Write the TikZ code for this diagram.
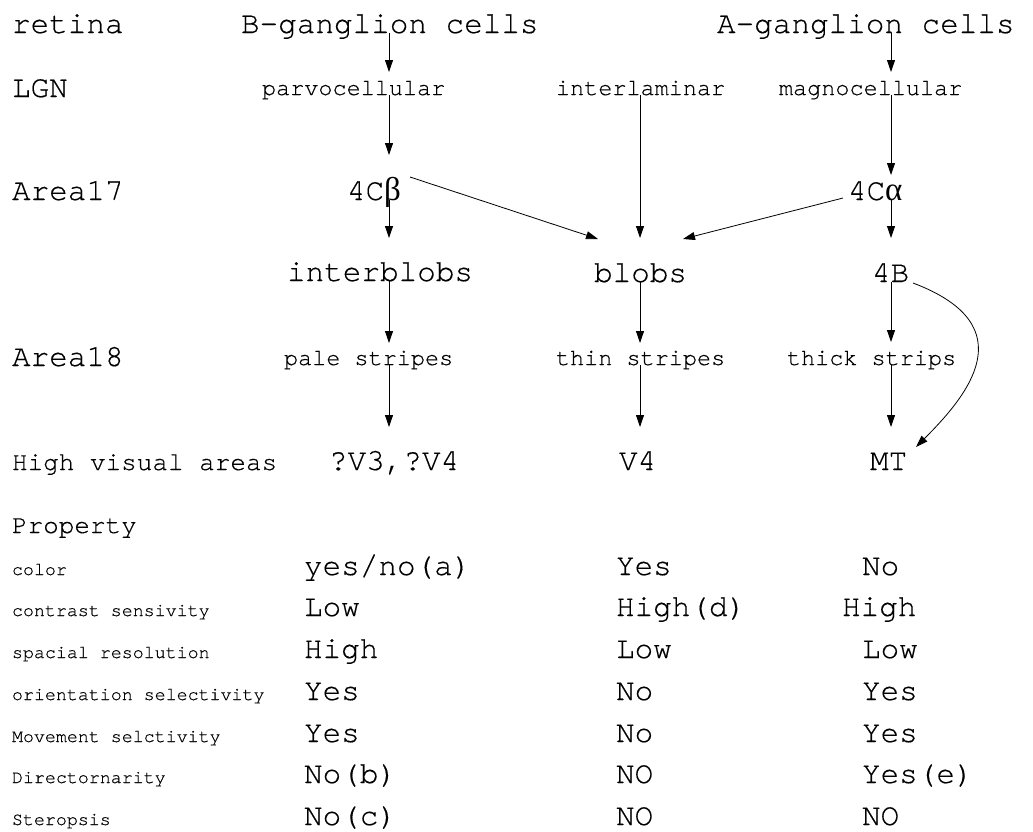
\documentclass[tikz,border=0pt]{standalone}
\usepackage{fontspec}
\setmonofont[FakeBold=0.35]{TeX Gyre Cursor}
\newfontfamily\grk{Liberation Serif}
\usetikzlibrary{arrows.meta}

\tikzset{
  lbl/.style={anchor=base west, inner sep=0pt, outer sep=0pt,
              font=\ttfamily\fontsize{#1}{#1}\selectfont},
  big/.style={lbl=31},
  mid/.style={lbl=23.5},
  head/.style={lbl=26},
  small/.style={lbl=18.3},
  arr/.style={-{Triangle[length=12pt,width=8pt]}, line width=0.8pt},
}

\begin{document}
\begin{tikzpicture}[x=1pt, y=-1pt]
\useasboundingbox[fill=white] (0,0) rectangle (1033,831);

% column axes for the vertical connectors
\coordinate (c1) at (389,0);
\coordinate (c2) at (640,0);
\coordinate (c3) at (891,0);

% row labels
\node[big]  (retina) at (12,33)  {retina};
\node[big]  (lgn)    at (12,97)  {LGN};
\node[big]  (a17)    at (12,200) {Area17};
\node[big]  (a18)    at (12,366) {Area18};
\node[head] (hva)    at (12,470) {High visual areas};
\node[head] (prop)   at (12,533) {Property};

% pathway nodes
\node[big] (bgc)  at (241,33) {B-ganglion cells};
\node[big] (agc)  at (717,33) {A-ganglion cells};

\node[mid] (parvo)  at (262,95) {parvocellular};
\node[mid] (interl) at (556,95) {interlaminar};
\node[mid] (magno)  at (779,95) {magnocellular};

\node[big] (cb) at (347,200) {4C{\grk\fontsize{33}{33}\selectfont β}};
\node[big] (ca) at (848,200) {4C{\grk\fontsize{33}{33}\selectfont α}};

\node[big] (interb) at (287,281) {interblobs};
\node[big] (blobs)  at (594,282) {blobs};
\node[big] (fourb)  at (872,282) {4B};

\node[mid] (pale)  at (284,365) {pale stripes};
\node[mid] (thin)  at (556,365) {thin stripes};
\node[mid] (thick) at (787,365) {thick strips};

\node[big] (v34) at (329,470) {?V3,?V4};
\node[big] (v4)  at (619,470) {V4};
\node[big] (mt)  at (870,470) {MT};

% parvocellular stream
\draw[arr, shorten >=23pt] (bgc.base -| c1)    -- (parvo.base -| c1);
\draw[arr, shorten >=45pt] (parvo.base -| c1)  -- (cb.base -| c1);
\draw[arr, shorten >=43pt] (cb.base -| c1)     -- (interb.base -| c1);
\draw[arr, shorten >=22pt] (interb.base -| c1) -- (pale.base -| c1);
\draw[arr, shorten >=43pt] (pale.base -| c1)   -- (v34.base -| c1);

% interlaminar / blob stream
\draw[arr, shorten >=44pt] (interl.base -| c2) -- (blobs.base -| c2);
\draw[arr, shorten >=22pt] (blobs.base -| c2)  -- (thin.base -| c2);
\draw[arr, shorten >=43pt] (thin.base -| c2)   -- (v4.base -| c2);

% magnocellular stream
\draw[arr, shorten >=23pt] (agc.base -| c3)   -- (magno.base -| c3);
\draw[arr, shorten >=25pt] (magno.base -| c3) -- (ca.base -| c3);
\draw[arr, shorten >=44pt] (ca.base -| c3)    -- (fourb.base -| c3);
\draw[arr, shorten >=23pt] (fourb.base -| c3) -- (thick.base -| c3);
\draw[arr, shorten >=43pt] (thick.base -| c3) -- (mt.base -| c3);

% cross connections into the blobs
\draw[arr] ([shift={(63,-23)}]cb.base west) -- ([shift={(4,-43)}]blobs.base west);
\draw[arr] ([shift={(-5,-2)}]ca.base west)  -- ([shift={(89,-43)}]blobs.base west);

% direct 4B to MT projection
\draw[arr] ([shift={(41,1)}]fourb.base west)
  .. controls +(114,43) and +(50,-50) .. ([shift={(46,-23)}]mt.base west);

% property table
\node[small] (p1) at (12,575) {color};
\node[small] (p2) at (12,616) {contrast sensivity};
\node[small] (p3) at (12,658) {spacial resolution};
\node[small] (p4) at (12,700) {orientation selectivity};
\node[small] (p5) at (12,742) {Movement selctivity};
\node[small] (p6) at (12,783) {Directornarity};
\node[small] (p7) at (12,825) {Steropsis};

\node[big] (p1a) at (304,575) {yes/no(a)};
\node[big] (p2a) at (304,616) {Low};
\node[big] (p3a) at (304,658) {High};
\node[big] (p4a) at (304,700) {Yes};
\node[big] (p5a) at (304,742) {Yes};
\node[big] (p6a) at (304,783) {No(b)};
\node[big] (p7a) at (304,825) {No(c)};

\node[big] (p1b) at (616,575) {Yes};
\node[big] (p2b) at (616,616) {High(d)};
\node[big] (p3b) at (616,658) {Low};
\node[big] (p4b) at (616,700) {No};
\node[big] (p5b) at (616,742) {No};
\node[big] (p6b) at (616,783) {NO};
\node[big] (p7b) at (616,825) {NO};

\node[big] (p1c) at (862,575) {No};
\node[big] (p2c) at (842,616) {High};
\node[big] (p3c) at (862,658) {Low};
\node[big] (p4c) at (862,700) {Yes};
\node[big] (p5c) at (862,742) {Yes};
\node[big] (p6c) at (862,783) {Yes(e)};
\node[big] (p7c) at (862,825) {NO};
\end{tikzpicture}
\end{document}
